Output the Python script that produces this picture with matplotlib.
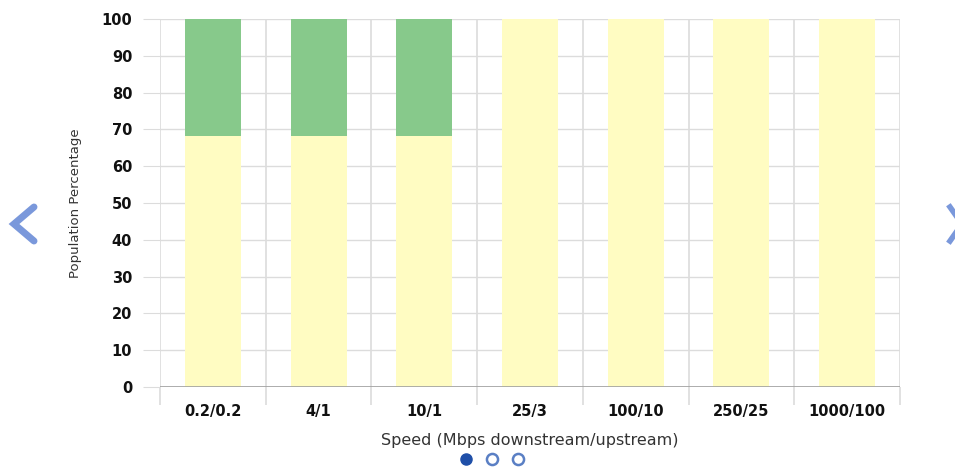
import matplotlib.pyplot as plt
import numpy as np
from matplotlib.lines import Line2D

speeds = ['0.2/0.2', '4/1', '10/1', '25/3', '100/10', '250/25', '1000/100']
# share of population per speed tier (%)
lower = [68.2, 68.2, 68.2, 100, 100, 100, 100]
upper = [31.8, 31.8, 31.8, 0, 0, 0, 0]

yellow = '#fffcc2'
green = '#87c98b'
grid_c = '#dcdcdc'

fig = plt.figure(figsize=(9.55, 4.68), dpi=100)
ax = fig.add_axes([0.1675, 0.1731, 0.7749, 0.7863])

x = np.arange(len(speeds))
ax.bar(x, lower, width=0.53, color=yellow, zorder=2)
ax.bar(x, upper, width=0.53, bottom=lower, color=green, zorder=2)

ax.set_xlim(-0.5, len(speeds) - 0.5)
ax.set_ylim(0, 100)
ax.set_yticks(np.arange(0, 101, 10))
ax.set_xticks(x)
ax.set_xticklabels(speeds)
ax.set_xticks(np.arange(-0.5, len(speeds)), minor=True)

for s in ax.spines.values():
    s.set_visible(False)
ax.axhline(0, color='#a0a0a0', lw=1.2, zorder=3)

ax.grid(axis='y', color=grid_c, lw=1, zorder=0)
ax.grid(axis='x', which='minor', color=grid_c, lw=1.2, zorder=0)
ax.tick_params(axis='x', which='major', length=0, pad=12)
ax.tick_params(axis='x', which='minor', length=13, color=grid_c, width=1.2)
ax.tick_params(axis='y', length=12, color=grid_c, pad=8)
for lab in ax.get_xticklabels() + ax.get_yticklabels():
    lab.set_fontweight('bold')
    lab.set_fontsize(10.5)
    lab.set_color('#111111')

ax.set_xlabel('Speed (Mbps downstream/upstream)', fontsize=11.5,
              color='#333333', labelpad=10)
ax.set_ylabel('Population Percentage', fontsize=9.5, color='#333333',
              labelpad=14)

# carousel arrows and page dots
fig.add_artist(Line2D([34/955, 14/955, 34/955],
                      [1-207/468, 1-224/468, 1-241/468],
                      color='#7a98db', lw=5, solid_capstyle='round',
                      solid_joinstyle='miter'))
fig.add_artist(Line2D([950/955, 962/955, 950/955],
                      [1-207/468, 1-224/468, 1-241/468],
                      color='#7a98db', lw=4))
fig.add_artist(Line2D([466/955], [1-459/468], marker='o', ms=8,
                      color='#1f4fa8', lw=0))
fig.add_artist(Line2D([492/955, 518/955], [1-459/468, 1-459/468],
                      marker='o', ms=8, mfc='white', mec='#5a7fc4',
                      mew=1.8, lw=0))

fig.savefig('out.png', dpi=100)
